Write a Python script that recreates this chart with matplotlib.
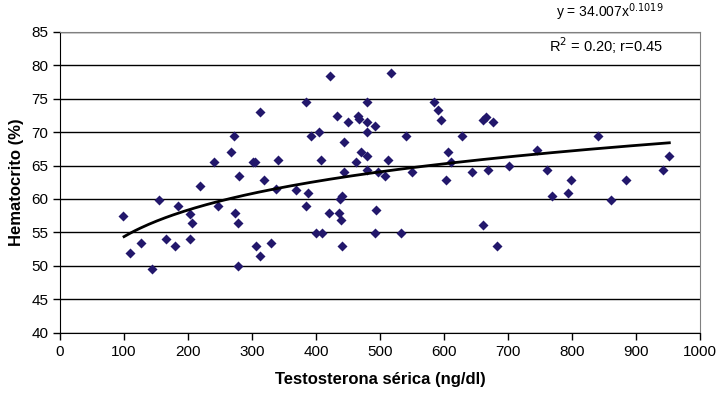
import numpy as np
import matplotlib.pyplot as plt

plt.rcParams['font.family'] = ['Liberation Sans Narrow', 'Liberation Sans', 'DejaVu Sans']

# testosterona (ng/dl) y hematocrito (%)
testo = [99, 109, 126, 143, 155, 165, 179, 184, 203, 206, 203, 218, 241, 247,
         267, 272, 279, 274, 278, 278, 313, 301, 304, 319, 306, 312, 330, 340,
         337, 369, 387, 384, 385, 392, 405, 407, 400, 409, 422, 421, 433, 444,
         450, 444, 436, 437, 440, 439, 440, 466, 467, 480, 480, 480, 462, 471,
         480, 479, 492, 497, 507, 494, 492, 513, 517, 541, 550, 533, 584, 590,
         595, 606, 611, 603, 628, 644, 661, 665, 661, 669, 676, 683, 701, 746,
         761, 769, 793, 799, 841, 861, 884, 942, 952]
hto = [57.5, 51.9, 53.4, 49.5, 59.9, 54.0, 53.0, 59.0, 57.8, 56.4, 54.0, 62.0,
       65.5, 59.0, 67.0, 69.4, 63.4, 57.9, 56.4, 50.0, 73.0, 65.5, 65.5, 62.9,
       53.0, 51.5, 53.4, 65.9, 61.5, 61.4, 60.9, 59.0, 74.5, 69.4, 70.0, 65.9,
       54.9, 54.9, 78.4, 57.9, 72.4, 68.5, 71.5, 64.0, 57.9, 60.0, 60.5, 56.9,
       53.0, 72.4, 71.9, 74.5, 71.5, 70.0, 65.5, 67.0, 66.5, 64.4, 70.9, 64.0,
       63.4, 58.4, 54.9, 65.9, 78.9, 69.4, 64.0, 54.9, 74.5, 73.3, 71.8, 67.0,
       65.6, 62.9, 69.4, 64.0, 71.8, 72.3, 56.1, 64.4, 71.5, 53.0, 65.0, 67.4,
       64.4, 60.5, 60.9, 62.9, 69.4, 59.9, 62.9, 64.4, 66.5]

# línea de tendencia potencial y = a * x^b
coef_a = 34.007
coef_b = 0.1019
trend_range = [100, 952]

fig = plt.figure(figsize=(7.18, 3.93), dpi=100)
ax = fig.add_axes([0.0836, 0.1534, 0.8914, 0.7656])

ax.set_xlim(0, 1000)
ax.set_ylim(40, 85)
ax.set_xticks(np.arange(0, 1001, 100))
ax.set_yticks(np.arange(40, 86, 5))
ax.yaxis.grid(True, color='black', linewidth=1.0)
ax.set_axisbelow(True)

ax.scatter(testo, hto, marker='D', s=26, color='#22176b', zorder=3, linewidths=0)

xt = np.linspace(trend_range[0], trend_range[1], 200)
ax.plot(xt, coef_a * xt ** coef_b, color='black', linewidth=2, zorder=4)

for s in ['top', 'right']:
    ax.spines[s].set_color('#808080')
for s in ['left', 'bottom']:
    ax.spines[s].set_color('black')
ax.tick_params(axis='both', direction='out', length=5, width=1, labelsize=11, colors='black')

ax.set_xlabel('Testosterona sérica (ng/dl)', fontsize=12, fontweight='bold', labelpad=10)
ax.set_ylabel('Hematocrito (%)', fontsize=12, fontweight='bold', labelpad=5)

fig.text(0.924, 0.968, 'y = 34.007x$^{0.1019}$', ha='right', va='center', fontsize=10)
fig.text(0.924, 0.885, 'R$^{2}$ = 0.20; r=0.45', ha='right', va='center', fontsize=10.5)

fig.savefig('out.png', dpi=100)
